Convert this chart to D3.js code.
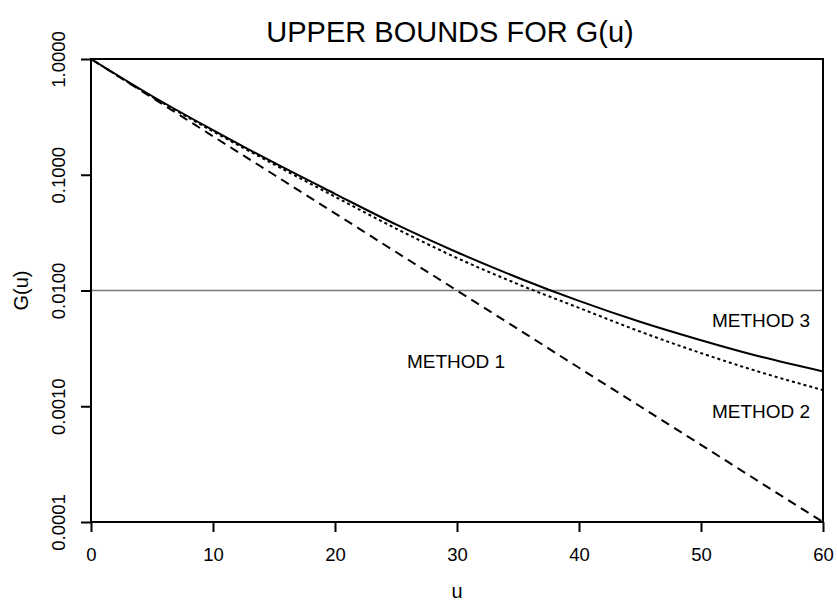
<!DOCTYPE html>
<html>
<head>
<meta charset="utf-8">
<script src="https://cdn.jsdelivr.net/npm/d3@7"></script>
<style>
  body { margin: 0; background: #fff; }
  text { font-family: "Liberation Sans", Arial, sans-serif; fill: #000; }
</style>
</head>
<body>
<div id="chart"></div>
<script>
//data
let uValues = [0, 5, 10, 15, 20, 25, 30, 35, 40, 45, 50, 55, 60];
let method1 = [1, 0.464, 0.215, 0.1, 0.0464, 0.0215, 0.01, 0.00464, 0.00215, 0.001, 0.000464, 0.000215, 0.0001];
let method2 = [1, 0.473, 0.237, 0.123, 0.0646, 0.0343, 0.0191, 0.01135, 0.00708, 0.00442, 0.00288, 0.00195, 0.00138];
let method3 = [1, 0.479, 0.243, 0.127, 0.0684, 0.0372, 0.0214, 0.0129, 0.00813, 0.00537, 0.00372, 0.00266, 0.0020];
let xTicks = [0, 10, 20, 30, 40, 50, 60];
let yTicks = [1, 0.1, 0.01, 0.001, 0.0001];
let refLevel = 0.01;
let labels = [
    { text: "METHOD 1", u: 25.9, g: 0.00214 },
    { text: "METHOD 2", u: 50.9, g: 0.00079 },
    { text: "METHOD 3", u: 50.9, g: 0.00486 }
];

//define margin
let margin = { top: 59, right: 14, bottom: 79, left: 91 };

let svgWidth = 837;
let svgHeight = 601;
let graphWidth = svgWidth - margin.left - margin.right;
let graphHeight = svgHeight - margin.bottom - margin.top;

let x = d3.scaleLinear().domain([0, 60]).range([0, graphWidth]);
let y = d3.scaleLog().domain([0.0001, 1]).range([graphHeight, 0]);

let svg = d3.select("#chart")
    .append("svg")
    .attr("width", svgWidth)
    .attr("height", svgHeight)
    .append("g")
    .attr("transform", "translate(" + margin.left + "," + margin.top + ")");

//reference line at 0.01
svg.append("line")
    .attr("x1", 0)
    .attr("x2", graphWidth)
    .attr("y1", y(refLevel))
    .attr("y2", y(refLevel))
    .style("stroke", "#7a7a7a")
    .style("stroke-width", 1.5);

//lines
function makeLine(values) {
    return d3.line()
        .x(function(d, i) { return x(uValues[i]) })
        .y(function(d) { return y(d) })
        .curve(d3.curveMonotoneX)(values);
}

svg.append("path")
    .style("stroke", "#000")
    .style("fill", "none")
    .style("stroke-width", 2)
    .style("stroke-dasharray", "9,6")
    .attr("d", makeLine(method1));

svg.append("path")
    .style("stroke", "#000")
    .style("fill", "none")
    .style("stroke-width", 2)
    .style("stroke-dasharray", "3,3")
    .attr("d", makeLine(method2));

svg.append("path")
    .style("stroke", "#000")
    .style("fill", "none")
    .style("stroke-width", 2)
    .attr("d", makeLine(method3));

//frame
svg.append("rect")
    .attr("width", graphWidth)
    .attr("height", graphHeight)
    .style("fill", "none")
    .style("stroke", "#000")
    .style("stroke-width", 2);

//x axis
let xAxis = d3.axisBottom(x).tickValues(xTicks).tickSize(10).tickPadding(16);
let gx = svg.append("g")
    .attr("transform", "translate(0," + graphHeight + ")")
    .call(xAxis);
gx.select(".domain").remove();
gx.selectAll(".tick line").style("stroke-width", 2);
gx.selectAll(".tick text").style("font-size", "18.5px").attr("font-family", null);

//y axis
let yAxis = d3.axisLeft(y).tickValues(yTicks).tickSize(10).tickFormat(d3.format(".4f"));
let gy = svg.append("g").call(yAxis);
gy.select(".domain").remove();
gy.selectAll(".tick line").style("stroke-width", 2);
gy.selectAll(".tick text")
    .attr("font-family", null)
    .style("font-size", "18.5px")
    .attr("x", null)
    .attr("dy", null)
    .attr("transform", "translate(-26,0) rotate(-90)")
    .style("text-anchor", "middle");

//axis titles
svg.append("text")
    .attr("transform", "translate(" + (28 - margin.left) + "," + (graphHeight / 2) + ") rotate(-90)")
    .style("text-anchor", "middle")
    .style("font-size", "20px")
    .text("G(u)");

svg.append("text")
    .attr("x", graphWidth / 2)
    .attr("y", graphHeight + 76)
    .style("text-anchor", "middle")
    .style("font-size", "20px")
    .text("u");

//title
svg.append("text")
    .attr("x", graphWidth / 2 - 7)
    .attr("y", 42 - margin.top)
    .style("text-anchor", "middle")
    .style("font-size", "29px")
    .text("UPPER BOUNDS FOR G(u)");

//method labels
svg.selectAll("text.method")
    .data(labels)
    .enter()
    .append("text")
    .attr("class", "method")
    .attr("x", function(d) { return x(d.u) })
    .attr("y", function(d) { return y(d.g) })
    .style("font-size", "19px")
    .text(function(d) { return d.text });
</script>
</body>
</html>
